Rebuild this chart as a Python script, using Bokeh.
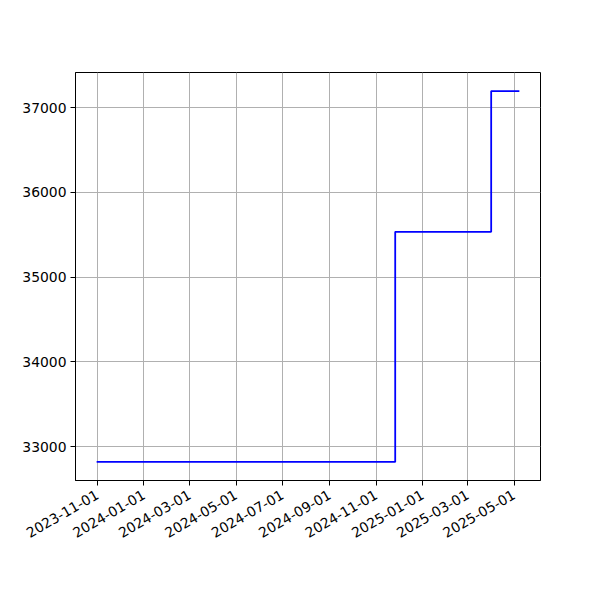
import math
from datetime import datetime
from bokeh.plotting import figure
from bokeh.models import Range1d, FixedTicker, DatetimeTickFormatter, BasicTickFormatter
from bokeh.embed import file_html
from bokeh.resources import INLINE

# Data
dates = ["2023-10-31", "2024-11-26", "2025-04-01", "2025-05-08"]
values = [32820, 35535, 37195, 37195]
x_tick_labels = ["2023-11-01", "2024-01-01", "2024-03-01", "2024-05-01", "2024-07-01",
                 "2024-09-01", "2024-11-01", "2025-01-01", "2025-03-01", "2025-05-01"]
y_ticks = [33000, 34000, 35000, 36000, 37000]

def ms(s):
    return datetime.strptime(s, "%Y-%m-%d").timestamp() * 1000.0

xs = [ms(d) for d in dates]
xspan = max(xs) - min(xs)
yspan = max(values) - min(values)

p = figure(width=584, height=584, x_axis_type="datetime",
           output_backend="svg", toolbar_location=None,
           x_range=Range1d(min(xs) - 0.05 * xspan, max(xs) + 0.05 * xspan),
           y_range=Range1d(min(values) - 0.05 * yspan, max(values) + 0.05 * yspan),
           min_border_left=75, min_border_right=44, min_border_top=72, min_border_bottom=104)

p.step(x=xs, y=values, mode="after", line_color="blue", line_width=1.8)

p.xaxis.ticker = FixedTicker(ticks=[ms(d) for d in x_tick_labels])
fmt = "%Y-%m-%d"
p.xaxis.formatter = DatetimeTickFormatter(milliseconds=fmt, seconds=fmt, minsec=fmt, minutes=fmt,
                                          hourmin=fmt, hours=fmt, days=fmt, months=fmt, years=fmt)
p.xaxis.major_label_orientation = math.pi / 6
p.yaxis.ticker = FixedTicker(ticks=y_ticks)
p.yaxis.formatter = BasicTickFormatter(use_scientific=False)

for ax in (p.xaxis[0], p.yaxis[0]):
    ax.major_label_text_font = "DejaVu Sans"
    ax.major_label_text_font_size = "13.9px"
    ax.major_label_text_color = "black"
    ax.axis_line_color = "black"
    ax.major_tick_line_color = "black"
    ax.major_tick_out = 5
    ax.major_tick_in = 0
    ax.minor_tick_line_color = None
    ax.major_label_standoff = 4
p.xaxis.major_label_standoff = 8

p.grid.grid_line_color = "#b0b0b0"
p.grid.grid_line_width = 1
p.outline_line_color = "black"
p.outline_line_width = 1
p.outline_line_alpha = 1
p.background_fill_color = "white"
p.border_fill_color = "white"

open("out.html", "w").write(file_html(p, INLINE))
